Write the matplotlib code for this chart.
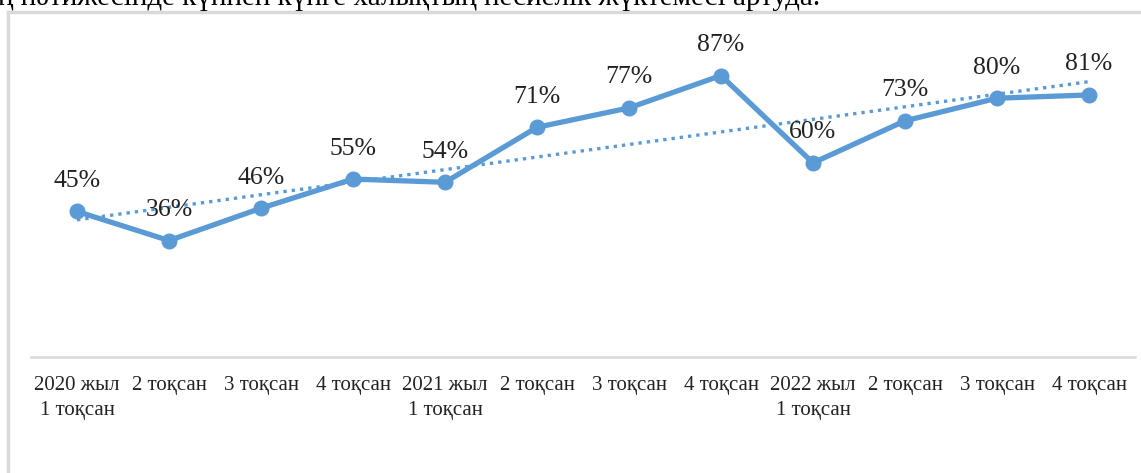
import numpy as np
import matplotlib
matplotlib.use('Agg')
import matplotlib.pyplot as plt
from matplotlib.lines import Line2D

# data
categories = ['2020 жыл\n1 тоқсан', '2 тоқсан', '3 тоқсан', '4 тоқсан',
              '2021 жыл\n1 тоқсан', '2 тоқсан', '3 тоқсан', '4 тоқсан',
              '2022 жыл\n1 тоқсан', '2 тоқсан', '3 тоқсан', '4 тоқсан']
values = [45, 36, 46, 55, 54, 71, 77, 87, 60, 73, 80, 81]
top_text = 'ң нәтижесінде күннен күнге халықтың несиелік жүктемесі артуда.'

blue = '#5B9BD5'
plt.rcParams['font.family'] = ['Liberation Serif', 'DejaVu Serif']

fig = plt.figure(figsize=(11.41, 4.73), dpi=100)
ax = fig.add_axes([31/1141, 1-357/473, (1135-31)/1141, (357-33.5)/473])

x = np.arange(len(values))
# linear trend line (dotted)
k, b = np.polyfit(x, values, 1)
ax.plot(x, k*x + b, color=blue, lw=2.4, ls=(0, (1, 1.5)), zorder=2)

ax.plot(x, values, color=blue, lw=3.8, marker='o', ms=10.5, zorder=3)

for xi, v in zip(x, values):
    ax.annotate('%d%%' % v, (xi, v), xytext=(0, 22), textcoords='offset points',
                ha='center', va='center', fontsize=18.5, color='#222222')

ax.set_xlim(-0.5, len(values)-0.5)
ax.set_ylim(0, 100)
ax.set_xticks(x)
ax.set_xticklabels(categories, fontsize=15, color='#222222', linespacing=1.4)
ax.tick_params(axis='x', length=0, pad=14)
ax.set_yticks([])
for s in ['top', 'left', 'right']:
    ax.spines[s].set_visible(False)
ax.spines['bottom'].set_color('#d9d9d9')
ax.spines['bottom'].set_linewidth(1.8)

# frame of the embedded chart
fig.add_artist(Line2D([8/1141, 1], [1-12/473, 1-12/473], color='#d9d9d9', lw=2.5))
fig.add_artist(Line2D([8/1141, 8/1141], [0, 1-12/473], color='#d9d9d9', lw=2.5))

# document text cut off at the top
fig.text(-2/1141, 1-5/473, top_text, fontsize=21, va='baseline', ha='left', color='black')

fig.savefig('out.png', dpi=100)
